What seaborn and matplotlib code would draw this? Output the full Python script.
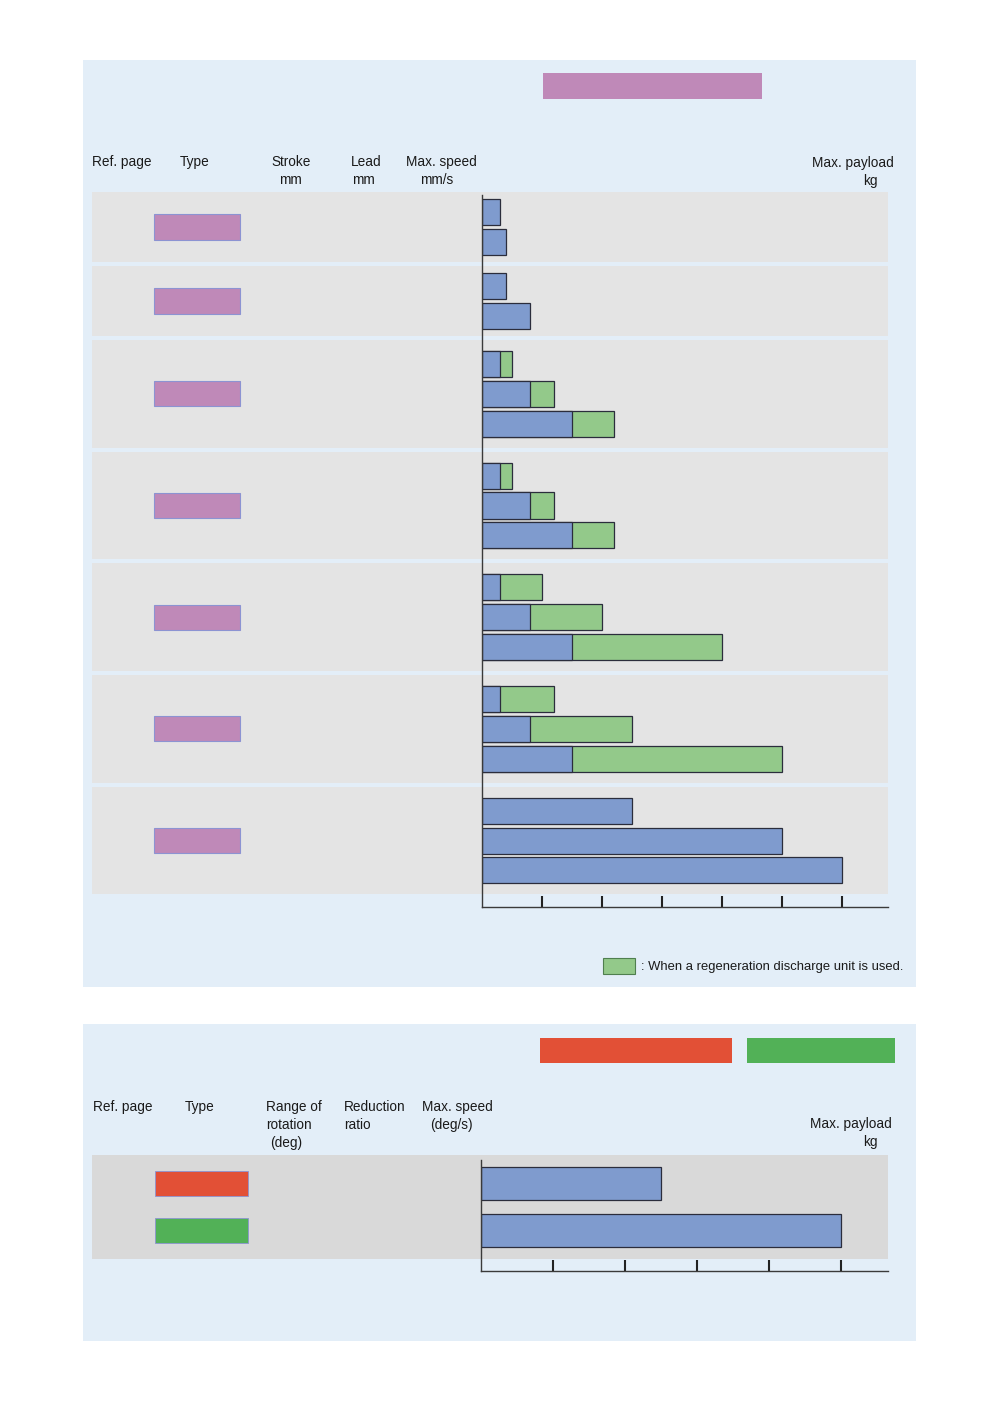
# Payload charts for the two actuator families: sliders (top) and rotary tables (bottom).
# Tick step = 10 kg (top), 1 kg (bottom).

import pandas as pd
import matplotlib.pyplot as plt
import seaborn as sns
from matplotlib.patches import Rectangle
from matplotlib.transforms import blended_transform_factory

plt.rcParams["font.family"] = ["Liberation Sans", "DejaVu Sans"]

# --- data ---------------------------------------------------------------------

slider_group = [1, 1, 2, 2, 3, 3, 3, 4, 4, 4, 5, 5, 5, 6, 6, 6, 7, 7, 7]
slider_payload = [3, 4, 4, 8, 3, 8, 15, 3, 8, 15, 3, 8, 15, 3, 8, 15, 25, 50, 60]
slider_payload_regen = [3, 4, 4, 8, 5, 12, 22, 5, 12, 22, 10, 20, 40, 12, 25, 50, 25, 50, 60]
slider_ticks = [10, 20, 30, 40, 50, 60]

rotary_type = ["Rotary A", "Rotary B"]
rotary_payload = [2.5, 5.0]
rotary_ticks = [1, 2, 3, 4, 5]

# --- colours --------------------------------------------------------------------

PANEL = "#E3EEF8"
BAND_TOP = "#E4E4E4"
BAND_BOT = "#D9D9D9"
BLUE = "#7F9BCE"
GREEN = "#93C98A"
EDGE = "#2B2D3C"
PINK = "#BF89B8"
RED = "#E25036"
LGREEN = "#52B157"

W, H = 1000, 1402
fig = plt.figure(figsize=(10, 14.02), dpi=100)
fig.patch.set_facecolor("white")


def fx(x):
    return x / W


def fy(y):
    return 1 - y / H


def box(x0, y0, x1, y1, color, edge="none", lw=0, z=0):
    fig.add_artist(Rectangle((fx(x0), fy(y1)), fx(x1) - fx(x0), fy(y0) - fy(y1),
                             transform=fig.transFigure, facecolor=color,
                             edgecolor=edge, linewidth=lw, zorder=z))


def text(s, x, y, ha="center", size=9.8):
    fig.text(fx(x), fy(y), s, ha=ha, va="center", fontsize=size, color="#1a1a1a")


# panel backgrounds
box(83, 60, 916, 987, PANEL)
box(83, 1024, 916, 1341, PANEL)

# header swatches
box(543, 73, 762, 99, PINK)
box(540, 1038, 732, 1063, RED)
box(747, 1038, 895, 1063, LGREEN)

# --- top panel: sliders ----------------------------------------------------------

df = pd.DataFrame({"group": slider_group, "payload": slider_payload,
                   "regen": slider_payload_regen})

# vertical slot positions: 1 per bar, wider gap between groups
pad = {2: 0.67, 3: 0.8}
gap = 0.13
sizes = df["group"].value_counts().sort_index()
pos, bands = [], []
cur, prev_n = None, None
for g, n in sizes.items():
    start = 0.0 if cur is None else cur + pad[prev_n] + gap + pad[n]
    grp_pos = [start + i for i in range(n)]
    pos += grp_pos
    bands.append((grp_pos[0] - pad[n], grp_pos[-1] + pad[n]))
    cur, prev_n = grp_pos[-1], n
df["pos"] = pos

ax1 = fig.add_axes([fx(482), fy(907), fx(888) - fx(482), (907 - 195) / H])
ax1.set_facecolor("none")

regen = df[df["regen"] > df["payload"]]
sns.barplot(data=regen, x="regen", y="pos", orient="h", native_scale=True,
            color=GREEN, edgecolor=EDGE, linewidth=0.9, width=0.87,
            errorbar=None, saturation=1, ax=ax1)
sns.barplot(data=df, x="payload", y="pos", orient="h", native_scale=True,
            color=BLUE, edgecolor=EDGE, linewidth=0.9, width=0.87,
            errorbar=None, saturation=1, ax=ax1)

ax1.set_ylim(df["pos"].max() + 1.22, -0.57)
ax1.set_xlim(0, 67.7)

tr1 = blended_transform_factory(fig.transFigure, ax1.transData)
for (b0, b1) in bands:
    ax1.add_patch(Rectangle((fx(92), b0), fx(888) - fx(92), b1 - b0, transform=tr1,
                            facecolor=BAND_TOP, edgecolor="none", zorder=-5,
                            clip_on=False))
    mid = (b0 + b1) / 2
    ax1.add_patch(Rectangle((fx(154), mid - 0.42), fx(240) - fx(154), 0.84,
                            transform=tr1, facecolor=PINK, edgecolor="#8C93D2",
                            linewidth=0.8, clip_on=False, zorder=2))

# --- bottom panel: rotary tables ------------------------------------------------

ax2 = fig.add_axes([fx(481), fy(1271), fx(888) - fx(481), (1271 - 1160) / H])
ax2.set_facecolor("none")
sns.barplot(x=rotary_payload, y=rotary_type, orient="h", color=BLUE,
            edgecolor=EDGE, linewidth=0.9, width=0.7, errorbar=None,
            saturation=1, ax=ax2)
ax2.set_ylim(1.86, -0.5)
ax2.set_xlim(0, 5.65)

tr2 = blended_transform_factory(fig.transFigure, ax2.transData)
ax2.add_patch(Rectangle((fx(92), -0.61), fx(888) - fx(92), 2.22, transform=tr2,
                        facecolor=BAND_BOT, edgecolor="none", zorder=-5,
                        clip_on=False))
for i, c in enumerate([RED, LGREEN]):
    ax2.add_patch(Rectangle((fx(155), i - 0.26), fx(248) - fx(155), 0.52,
                            transform=tr2, facecolor=c, edgecolor="#8C93D2",
                            linewidth=0.6, clip_on=False, zorder=2))

# --- axis styling -----------------------------------------------------------------

for ax, ticks in [(ax1, slider_ticks), (ax2, rotary_ticks)]:
    for side in ["top", "right"]:
        ax.spines[side].set_visible(False)
    for side in ["left", "bottom"]:
        ax.spines[side].set_color("#3a3a3a")
        ax.spines[side].set_linewidth(1.0)
    ax.set_xticks(ticks)
    ax.set_yticks([])
    ax.tick_params(axis="x", direction="in", length=8, width=1.5,
                   color="#222222", labelbottom=False)
    ax.set_xlabel("")
    ax.set_ylabel("")

# --- header texts -----------------------------------------------------------------

text("Ref. page", 92, 162, ha="left")
text("Type", 195, 162)
text("Stroke", 291, 162)
text("mm", 290, 180)
text("Lead", 366, 162)
text("mm", 363, 180)
text("Max. speed", 441, 162)
text("mm/s", 437, 180)
text("Max. payload", 853, 163)
text("kg", 870, 181)

text("Ref. page", 93, 1107, ha="left")
text("Type", 200, 1107)
text("Range of", 266, 1107, ha="left")
text("rotation", 266, 1125, ha="left")
text("(deg)", 270, 1143, ha="left")
text("Reduction", 344, 1107, ha="left")
text("ratio", 344, 1125, ha="left")
text("Max. speed", 422, 1107, ha="left")
text("(deg/s)", 430, 1125, ha="left")
text("Max. payload", 810, 1124, ha="left")
text("kg", 863, 1142, ha="left")

# legend for the regeneration discharge unit
box(603, 958, 635, 974, GREEN, edge="#4f7f4f", lw=0.8, z=3)
text(": When a regeneration discharge unit is used.", 641, 967, ha="left", size=9.4)

fig.savefig("out.png", dpi=100)
